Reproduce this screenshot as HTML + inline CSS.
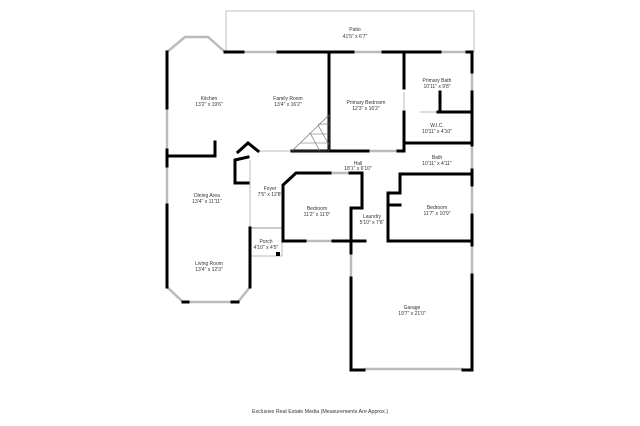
<!DOCTYPE html>
<html><head><style>
html,body{margin:0;padding:0;background:#fff;}
svg{display:block;}
text{font-family:"Liberation Sans",sans-serif;font-size:5px;fill:#333;text-anchor:middle;}
</style></head><body>
<svg width="640" height="426" viewBox="0 0 640 426" xmlns="http://www.w3.org/2000/svg">
<g stroke="#ccc" stroke-width="1.2" fill="none">
<rect x="226" y="11" width="248" height="41"/>
</g>
<!-- windows/doors gray -->
<g stroke="#bbb" stroke-width="2.5" fill="none">
<line x1="243" y1="52" x2="278" y2="52"/>
<line x1="353" y1="52" x2="383" y2="52"/>
<line x1="440" y1="52" x2="467" y2="52"/>
<polyline points="167,52 185,37 208,37 225,52"/>
<line x1="167" y1="108" x2="167" y2="150"/>
<line x1="167" y1="166" x2="167" y2="205"/>
<polyline points="167,287 183,302 238,302 250,287"/>
<line x1="472" y1="72" x2="472" y2="92"/>
<line x1="472" y1="145" x2="472" y2="170"/>
<line x1="472" y1="185" x2="472" y2="215"/>
<line x1="472" y1="245" x2="472" y2="275"/>
<line x1="351" y1="253" x2="351" y2="278"/>
<line x1="364" y1="369" x2="463" y2="369"/>
<line x1="305" y1="241" x2="333" y2="241"/>
<line x1="330" y1="173" x2="350" y2="173"/>
<line x1="368" y1="151" x2="398" y2="151"/>
<line x1="250" y1="228" x2="282" y2="228" stroke-width="1.5"/>
<line x1="250" y1="256" x2="282" y2="256" stroke-width="1"/>
<line x1="282" y1="241" x2="282" y2="256" stroke-width="1"/>
<line x1="258" y1="151" x2="292" y2="151" stroke-width="1"/>
<line x1="250" y1="160" x2="250" y2="228" stroke-width="1"/>
<line x1="404" y1="92" x2="404" y2="110" stroke-width="1"/>
<line x1="420" y1="112" x2="438" y2="112" stroke-width="1"/>
</g>
<g stroke="#000" stroke-width="3" fill="none" stroke-linecap="square">
<line x1="225" y1="52" x2="243" y2="52"/>
<line x1="278" y1="52" x2="353" y2="52"/>
<line x1="383" y1="52" x2="440" y2="52"/>
<line x1="467" y1="52" x2="472" y2="52"/>
<line x1="167" y1="52" x2="167" y2="108"/>
<line x1="167" y1="150" x2="167" y2="166"/>
<line x1="167" y1="205" x2="167" y2="287"/>
<line x1="472" y1="52" x2="472" y2="72"/>
<line x1="472" y1="92" x2="472" y2="145"/>
<line x1="472" y1="170" x2="472" y2="185"/>
<line x1="472" y1="215" x2="472" y2="245"/>
<line x1="472" y1="275" x2="472" y2="370"/>
<line x1="329" y1="52" x2="329" y2="151"/>
<line x1="404" y1="52" x2="404" y2="88"/>
<line x1="404" y1="112" x2="404" y2="151"/>
<line x1="440" y1="92" x2="440" y2="112"/>
<line x1="438" y1="112" x2="472" y2="112"/>
<line x1="404" y1="143" x2="472" y2="143"/>
<line x1="400" y1="174" x2="472" y2="174"/>
<line x1="167" y1="156" x2="215" y2="156"/>
<line x1="215" y1="142" x2="215" y2="156"/>
<line x1="292" y1="151" x2="368" y2="151"/>
<line x1="398" y1="151" x2="404" y2="151"/>
<polyline points="258,151 248,143 238,152"/>
<polyline points="248,157 235,160 235,183 248,183"/>
<line x1="250" y1="228" x2="250" y2="287"/>
<polyline points="283,241 283,185 296,173 330,173"/>
<polyline points="350,173 362,173 362,208 351,208"/>
<line x1="351" y1="208" x2="351" y2="253"/>
<line x1="351" y1="278" x2="351" y2="370"/>
<line x1="283" y1="241" x2="305" y2="241"/>
<line x1="333" y1="241" x2="365" y2="241"/>
<line x1="388" y1="241" x2="472" y2="241"/>
<polyline points="388,241 388,193 400,193 400,174"/>
<line x1="388" y1="205" x2="400" y2="205"/>
<line x1="351" y1="370" x2="364" y2="370"/>
<line x1="463" y1="370" x2="472" y2="370"/>
<line x1="183" y1="302" x2="188" y2="302"/>
<line x1="232" y1="302" x2="238" y2="302"/>
</g>
<rect x="276" y="252" width="4" height="4" fill="#000"/>
<g stroke="#666" stroke-width="0.6" fill="none">
<polygon points="292,151 329,115 329,151"/>
<line x1="300" y1="143" x2="329" y2="143"/>
<line x1="309" y1="134" x2="329" y2="134"/>
<line x1="318" y1="124" x2="329" y2="124"/>
<line x1="310" y1="133" x2="320" y2="151"/>
<line x1="318" y1="125" x2="329" y2="145"/>
</g>
<text x="355" y="31">Patio</text><text x="355" y="38">41'5" x 6'7"</text>
<text x="209" y="100">Kitchen</text><text x="209" y="106">13'2" x 19'6"</text>
<text x="288" y="100">Family Room</text><text x="288" y="106">13'4" x 16'2"</text>
<text x="366" y="104">Primary Bedroom</text><text x="366" y="110">12'3" x 16'2"</text>
<text x="437" y="82">Primary Bath</text><text x="437" y="88">10'11" x 9'8"</text>
<text x="437" y="127">W.I.C.</text><text x="437" y="133">10'11" x 4'10"</text>
<text x="437" y="159">Bath</text><text x="437" y="165">10'11" x 4'11"</text>
<text x="358" y="165">Hall</text><text x="358" y="170">18'1" x 6'10"</text>
<text x="270" y="190">Foyer</text><text x="270" y="196">7'5" x 12'8"</text>
<text x="207" y="197">Dining Area</text><text x="207" y="203">13'4" x 11'11"</text>
<text x="317" y="210">Bedroom</text><text x="317" y="216">11'2" x 11'0"</text>
<text x="372" y="218">Laundry</text><text x="372" y="224">5'10" x 7'6"</text>
<text x="437" y="209">Bedroom</text><text x="437" y="215">11'7" x 10'9"</text>
<text x="266" y="243">Porch</text><text x="266" y="249">4'10" x 4'5"</text>
<text x="209" y="265">Living Room</text><text x="209" y="271">13'4" x 12'3"</text>
<text x="412" y="309">Garage</text><text x="412" y="315">19'7" x 21'0"</text>
<text x="320" y="413" style="font-size:5.3px">Exclusive Real Estate Media (Measurements Are Approx.)</text>
</svg>
</body></html>
